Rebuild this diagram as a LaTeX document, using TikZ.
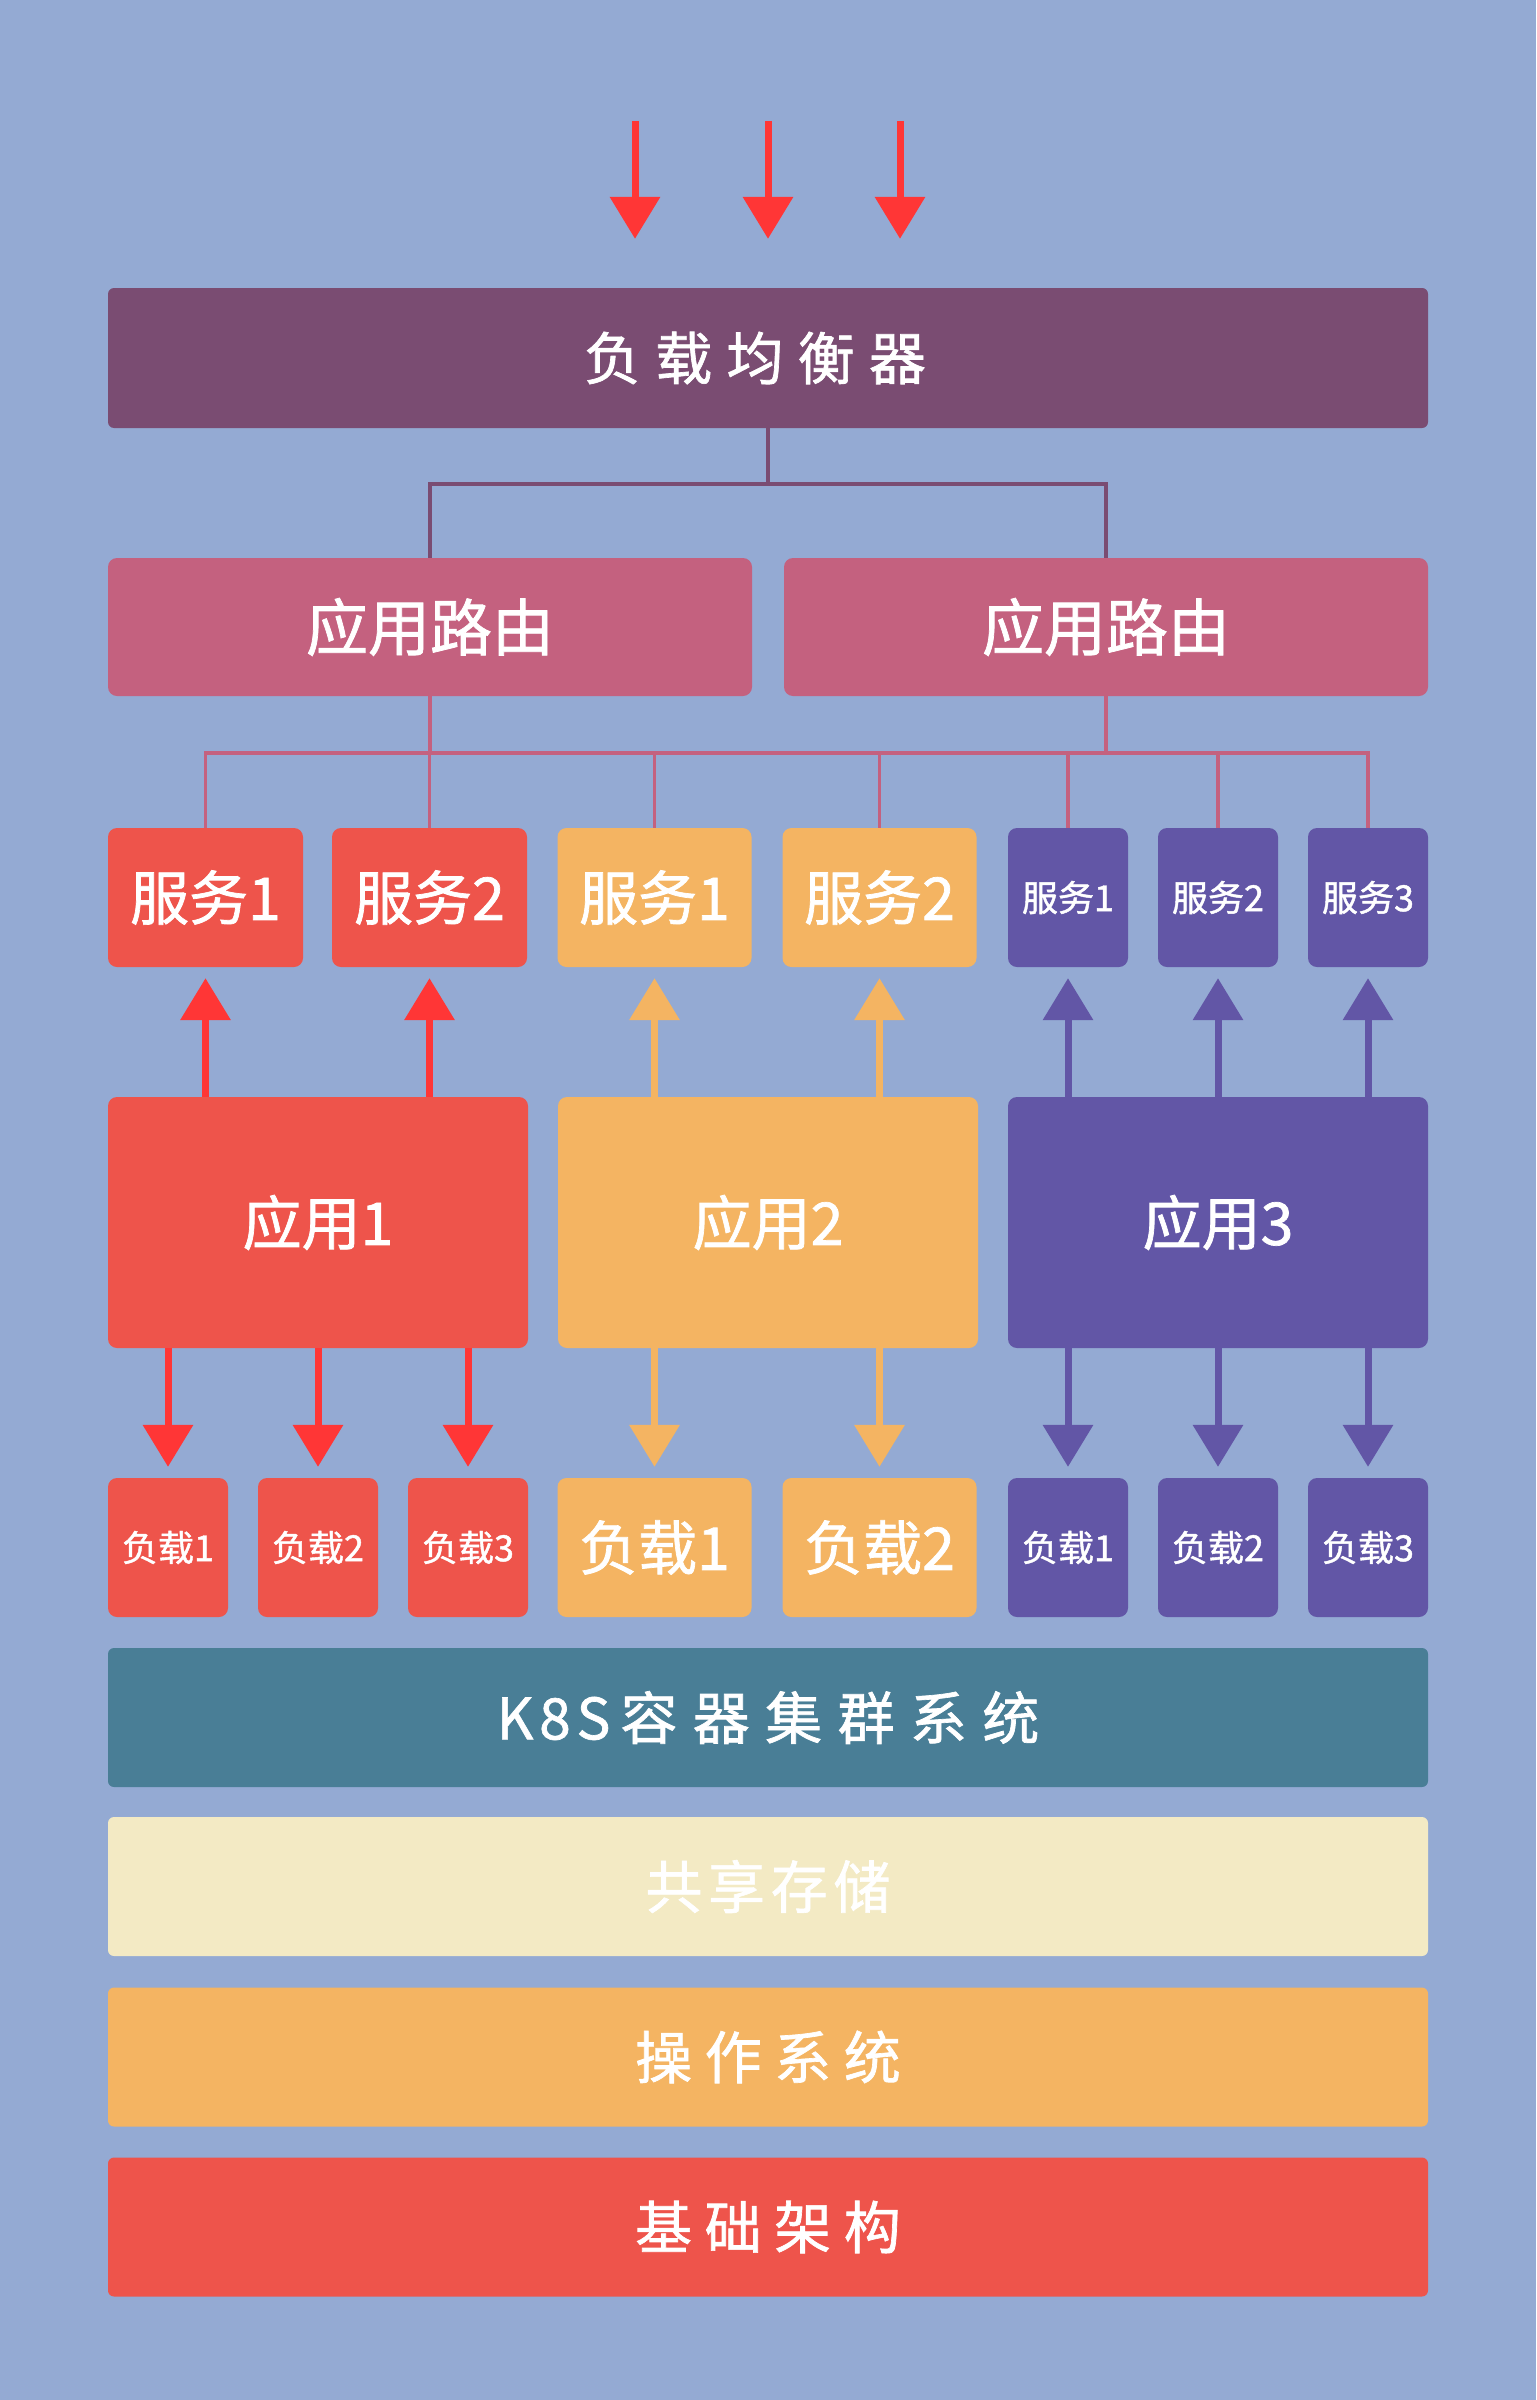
\documentclass[tikz,border=0pt]{standalone}
\usepackage{fontspec}
\newfontfamily\cjk[FakeBold=1.2]{Noto Sans CJK SC}
\usetikzlibrary{arrows.meta}

\definecolor{sfondo}{HTML}{94AAD3}
\definecolor{viola}{HTML}{7A4C72}
\definecolor{rosa}{HTML}{C4617F}
\definecolor{rosso}{HTML}{EE544B}
\definecolor{rossofr}{HTML}{FF3636}
\definecolor{giallo}{HTML}{F4B462}
\definecolor{indaco}{HTML}{6256A6}
\definecolor{petrolio}{HTML}{497E96}
\definecolor{crema}{HTML}{F3EAC4}

\begin{document}
\begin{tikzpicture}[x=1pt,y=-1pt,
	blocco/.style={rectangle,rounded corners=9pt,inner sep=0pt,text=white,minimum height=139pt},
	grande/.style={blocco,font={\cjk\fontsize{59}{61}\selectfont}},
	piccolo/.style={blocco,minimum width=120pt,font={\cjk\fontsize{36}{40}\selectfont}},
	fascia/.style={blocco,rounded corners=6pt,minimum width=1320pt,font={\cjk\fontsize{57}{60}\selectfont\addfontfeature{LetterSpace=#1}}},
	fascia/.default=22,
	freccia/.style={line width=7pt,-{Triangle[width=49pt,length=42pt]},shorten >=11pt},
	ramo/.style={line width=3.5pt}]
	\fill[sfondo] (0,0) rectangle (1536,2400); % sfondo

	% bilanciatore e router
	\node[fascia=25,fill=viola,minimum height=140pt] (bal) at (768,358) {负载均衡器\kern26pt};
	\node[grande,fill=rosa,minimum width=644pt,minimum height=138pt,font={\cjk\fontsize{62}{64}\selectfont}] (rtL) at (430,627) {应用路由};
	\node[grande,fill=rosa,minimum width=644pt,minimum height=138pt,font={\cjk\fontsize{62}{64}\selectfont}] (rtR) at (1106,627) {应用路由};

	% servizi
	\node[grande,fill=rosso,minimum width=195pt] (sa1) at (205.5,897.5) {服务1};
	\node[grande,fill=rosso,minimum width=195pt] (sa2) at (429.5,897.5) {服务2};
	\node[grande,fill=giallo,minimum width=194pt] (sb1) at (654.5,897.5) {服务1};
	\node[grande,fill=giallo,minimum width=194pt] (sb2) at (879.5,897.5) {服务2};
	\node[piccolo,fill=indaco] (sc1) at (1068,897.5) {服务1};
	\node[piccolo,fill=indaco] (sc2) at (1218,897.5) {服务2};
	\node[piccolo,fill=indaco] (sc3) at (1368,897.5) {服务3};

	% applicazioni
	\node[grande,fill=rosso,minimum width=420pt,minimum height=251pt] (a1) at (318,1222.5) {应用1};
	\node[grande,fill=giallo,minimum width=420pt,minimum height=251pt] (a2) at (768,1222.5) {应用2};
	\node[grande,fill=indaco,minimum width=420pt,minimum height=251pt] (a3) at (1218,1222.5) {应用3};

	% carichi
	\node[piccolo,fill=rosso] (la1) at (168,1547.5) {负载1};
	\node[piccolo,fill=rosso] (la2) at (318,1547.5) {负载2};
	\node[piccolo,fill=rosso] (la3) at (468,1547.5) {负载3};
	\node[grande,fill=giallo,minimum width=194pt] (lb1) at (654.5,1547.5) {负载1};
	\node[grande,fill=giallo,minimum width=194pt] (lb2) at (879.5,1547.5) {负载2};
	\node[piccolo,fill=indaco] (lc1) at (1068,1547.5) {负载1};
	\node[piccolo,fill=indaco] (lc2) at (1218,1547.5) {负载2};
	\node[piccolo,fill=indaco] (lc3) at (1368,1547.5) {负载3};

	% strati in basso
	\node[fascia=27,fill=petrolio] (k8s) at (768,1717.5) {{\addfontfeature{LetterSpace=10}K8S}\kern10pt容器集群系统};
	\node[fascia=10,fill=crema] (sto) at (768,1886.5) {共享存储};
	\node[fascia,fill=giallo] (os) at (768,2057) {操作系统};
	\node[fascia,fill=rosso] (inf) at (768,2227) {基础架构};

	% richieste in ingresso
	\coordinate (in1) at (635,121);
	\coordinate (in2) at (768,121);
	\coordinate (in3) at (900,121);
	\draw[freccia,rossofr,shorten >=49pt] (in1) -- (in1 |- bal.north);
	\draw[freccia,rossofr,shorten >=49pt] (in2) -- (in2 |- bal.north);
	\draw[freccia,rossofr,shorten >=49pt] (in3) -- (in3 |- bal.north);

	% rami
	\draw[ramo,viola] (bal.south) -- ++(0,56) -| (rtL.north);
	\draw[ramo,viola] (bal.south) -- ++(0,56) -| (rtR.north);
	\draw[ramo,rosa] (rtL.south) -- ++(0,57) -| (sa1.north);
	\draw[ramo,rosa] (rtL.south) -- ++(0,57) -| (sa2.north);
	\draw[ramo,rosa] (rtL.south) -- ++(0,57) -| (sb1.north);
	\draw[ramo,rosa] (rtL.south) -- ++(0,57) -| (sb2.north);
	\draw[ramo,rosa] (rtR.south) -- ++(0,57) -| (sb2.north);
	\draw[ramo,rosa] (rtR.south) -- ++(0,57) -| (sc1.north);
	\draw[ramo,rosa] (rtR.south) -- ++(0,57) -| (sc2.north);
	\draw[ramo,rosa] (rtR.south) -- ++(0,57) -| (sc3.north);

	% app -> servizi
	\draw[freccia,rossofr] (a1.north -| sa1) -- (sa1.south);
	\draw[freccia,rossofr] (a1.north -| sa2) -- (sa2.south);
	\draw[freccia,giallo] (a2.north -| sb1) -- (sb1.south);
	\draw[freccia,giallo] (a2.north -| sb2) -- (sb2.south);
	\draw[freccia,indaco] (a3.north -| sc1) -- (sc1.south);
	\draw[freccia,indaco] (a3.north -| sc2) -- (sc2.south);
	\draw[freccia,indaco] (a3.north -| sc3) -- (sc3.south);

	% app -> carichi
	\draw[freccia,rossofr] (a1.south -| la1) -- (la1.north);
	\draw[freccia,rossofr] (a1.south -| la2) -- (la2.north);
	\draw[freccia,rossofr] (a1.south -| la3) -- (la3.north);
	\draw[freccia,giallo] (a2.south -| lb1) -- (lb1.north);
	\draw[freccia,giallo] (a2.south -| lb2) -- (lb2.north);
	\draw[freccia,indaco] (a3.south -| lc1) -- (lc1.north);
	\draw[freccia,indaco] (a3.south -| lc2) -- (lc2.north);
	\draw[freccia,indaco] (a3.south -| lc3) -- (lc3.north);
\end{tikzpicture}
\end{document}
